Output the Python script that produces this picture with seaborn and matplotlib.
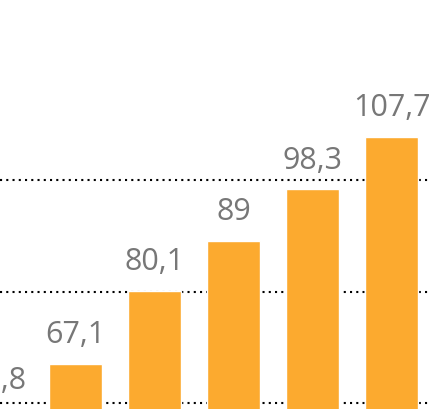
import matplotlib
matplotlib.use('Agg')
import matplotlib.pyplot as plt
import pandas as pd
import seaborn as sns

# values (first bar is mostly cut off)
categories = ['1', '2', '3', '4', '5', '6']
values = [58.8, 67.1, 80.1, 89.0, 98.3, 107.7]
labels = ['58,8', '67,1', '80,1', '89', '98,3', '107,7']
grid_values = [60, 80, 100]

df = pd.DataFrame({'cat': categories, 'value': values})

sns.set_style('white')
plt.rcParams['font.family'] = ['Open Sans', 'DejaVu Sans']

fig = plt.figure(figsize=(4.31, 4.09), dpi=100)
ax = fig.add_axes([0, 0, 1, 1])

sns.barplot(data=df, x='cat', y='value', color='#fcaa2f', saturation=1,
            width=0.66, ax=ax, zorder=2)

for g in grid_values:
    ax.axhline(g, color='black', lw=1.5, linestyle=(0, (1, 2)), zorder=1)

# value labels (annotate by hand so the cut-off first one is still drawn)
for i, (v, lab) in enumerate(zip(values, labels)):
    ax.annotate(lab, xy=(i, v), xytext=(0, 10), textcoords='offset points',
                ha='center', va='bottom', fontsize=22, color='#777777',
                annotation_clip=False)

ax.set_xlim(0.044, 5.5)
ax.set_ylim(59.0, 132.2)
ax.axis('off')

fig.savefig('out.png', dpi=100)
